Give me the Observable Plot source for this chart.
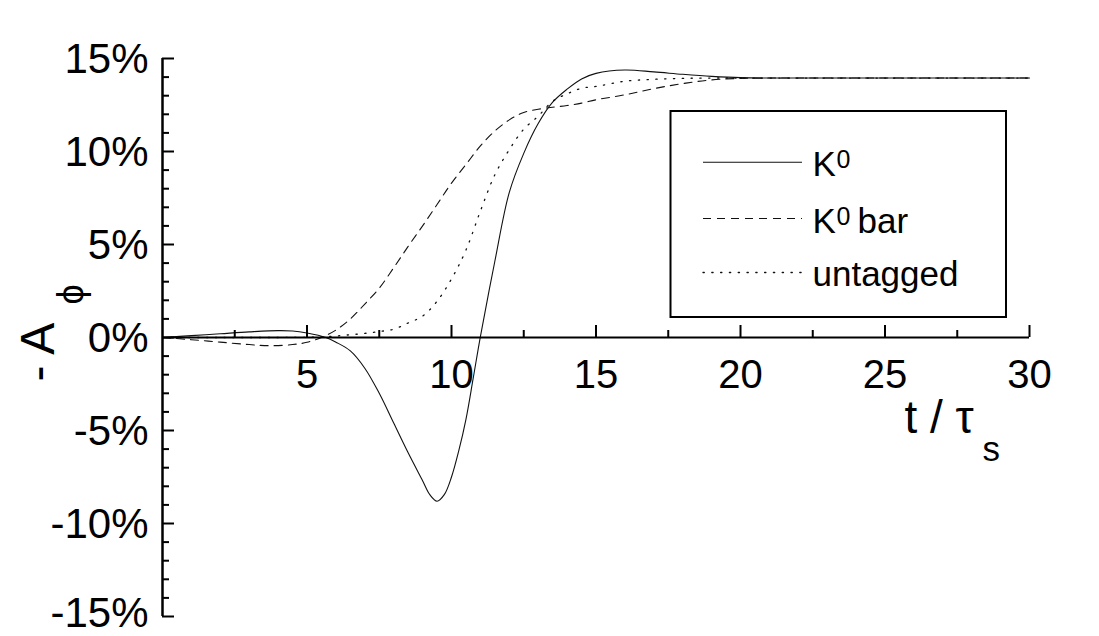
<!DOCTYPE html>
<html>
<head>
<meta charset="utf-8">
<script src="https://cdn.jsdelivr.net/npm/d3@7"></script>
<script src="https://cdn.jsdelivr.net/npm/@observablehq/plot@0.6"></script>
<style>
  html, body { margin: 0; padding: 0; background: #fff; }
  #chart { width: 1099px; height: 636px; }
</style>
</head>
<body>
<div id="chart"></div>
<script>
// ---- data ----
const k0T = [0,1,2,3,4,4.5,5,5.65,6,6.5,7,7.5,8,8.5,9,9.25,9.5,9.75,10,10.25,10.5,10.75,11,11.5,12,12.5,13,13.5,14,14.5,15,16,17,18,19,20,22,25,30];
const k0V = [0,0.1,0.2,0.3,0.37,0.35,0.24,0,-0.25,-0.72,-1.65,-3.0,-4.6,-6.2,-7.7,-8.45,-8.8,-8.45,-7.5,-6.1,-4.4,-2.2,0.05,4.1,7.8,9.9,11.5,12.65,13.35,13.9,14.2,14.38,14.28,14.15,14.04,13.97,13.95,13.95,13.95];

const k0barT = [0,1,2,3,3.7,4.5,5,5.5,6,6.5,7,7.5,8,8.5,9,9.5,10,10.5,11,11.5,12,12.5,13,13.5,14,14.5,15,16,17,18,19,20,22,25,30];
const k0barV = [0,-0.12,-0.25,-0.38,-0.44,-0.38,-0.26,0,0.4,1.0,1.8,2.65,3.75,4.9,6.0,7.15,8.3,9.3,10.3,11.1,11.7,12.1,12.27,12.38,12.47,12.6,12.78,13.05,13.38,13.65,13.85,13.93,13.95,13.95,13.95];

const untaggedT = [0,2,4,5,5.5,6,6.5,7,7.5,8,8.5,9,9.5,10,10.5,11,11.5,12,12.5,13,13.5,14,14.5,15,16,17,18,19,20,25,30];
const untaggedV = [0,0,0,0.01,0.03,0.08,0.15,0.22,0.32,0.45,0.78,1.15,1.95,3.15,4.7,6.8,8.75,10.1,11.2,11.9,12.7,13.1,13.4,13.5,13.78,13.88,13.93,13.95,13.95,13.95,13.95];

const yMajor = [-15,-10,-5,0,5,10,15];
const yMinor = d3.range(-15, 16).filter(d => d % 5 !== 0);
const xMajor = [5,10,15,20,25,30];
const xMinor = [2.5,7.5,12.5,17.5,22.5,27.5];
const xLabels = [5,10,15,20,25,30];

// ---- layout ----
const W = 1099, H = 636, ML = 162, MR = 70, MT = 58, MB = 20;
const PW = W - ML - MR, PH = H - MT - MB;
const FONT = "Liberation Sans, Arial, Helvetica, sans-serif";
const X = px => (px - ML) / PW * 30;          // pixel -> data (x)
const Y = py => 15 - (py - MT) / PH * 30;     // pixel -> data (y)

const rows = (T, V) => T.map((t, i) => ({t, v: V[i]}));
const INK = "#111";
const styles = {
  solid: {stroke: INK, strokeWidth: 1.1},
  dashed: {stroke: INK, strokeWidth: 1.1, strokeDasharray: "8,6"},
  dotted: {stroke: INK, strokeWidth: 1.3, strokeDasharray: "1.3,7.5", strokeLinecap: "round"}
};

const txt = (s, dx, dy, size, extra = {}) =>
  Plot.text([s], {frameAnchor: "top-left", text: d => d, dx: dx - ML, dy: dy - MT,
    fontSize: size, fontFamily: FONT, textAnchor: "start", lineAnchor: "bottom", fill: "black", ...extra});

const legendRows = [
  {label: "K", sup: "0", rest: "", style: "solid", ly: 161.7, base: 175},
  {label: "K", sup: "0", rest: "bar", style: "dashed", ly: 218, base: 232.7},
  {label: "untagged", sup: "", rest: "", style: "dotted", ly: 272, base: 285}
];

const marks = [
  // curves
  Plot.line(rows(k0T, k0V), {x: "t", y: "v", curve: "catmull-rom", ...styles.solid}),
  Plot.line(rows(k0barT, k0barV), {x: "t", y: "v", curve: "catmull-rom", ...styles.dashed}),
  Plot.line(rows(untaggedT, untaggedV), {x: "t", y: "v", curve: "catmull-rom", ...styles.dotted}),
  // axes
  Plot.ruleY([0], {x1: 0, x2: 30, stroke: "black", strokeWidth: 2}),
  Plot.ruleX([0], {y1: -15, y2: 15, stroke: "black", strokeWidth: 2.5}),
  Plot.tickY(yMajor, {y: d => d, insetRight: PW - 12, stroke: "black", strokeWidth: 2}),
  Plot.tickY(yMinor, {y: d => d, insetRight: PW - 7, stroke: "black", strokeWidth: 2}),
  Plot.tickX(xMajor, {x: d => d, insetTop: PH / 2 - 12, insetBottom: PH / 2, stroke: "black", strokeWidth: 2}),
  Plot.tickX(xMinor, {x: d => d, insetTop: PH / 2 - 7, insetBottom: PH / 2, stroke: "black", strokeWidth: 2}),
  Plot.text(yMajor.filter(d => d > -15), {y: d => d, text: d => `${d}%`, frameAnchor: "left", textAnchor: "end", dx: -14, dy: 1,
    fontSize: 42, fontFamily: FONT, fill: "black"}),
  Plot.text(yMajor.filter(d => d === -15), {y: d => d, text: d => `${d}%`, frameAnchor: "left", textAnchor: "end", dx: -14, dy: -3,
    fontSize: 42, fontFamily: FONT, fill: "black"}),
  Plot.text(xLabels, {x: d => d, y: () => 0, text: d => `${d}`, textAnchor: "middle", lineAnchor: "bottom", dy: 50,
    fontSize: 40, fontFamily: FONT, fill: "black"}),
  // axis titles
  txt("- A", 53, 381, 48, {rotate: -90}),
  txt("\u03D5", 82, 304, 36, {rotate: -90}),
  txt("t / τ", 904, 432, 46),
  txt("s", 982, 460, 35),
  // legend box
  Plot.rect([0], {x1: () => X(670.5), x2: () => X(1006), y1: () => Y(111), y2: () => Y(317),
    fill: "white", stroke: "black", strokeWidth: 2})
];

for (const r of legendRows) {
  marks.push(Plot.ruleY([0], {y: () => Y(r.ly), x1: () => X(703), x2: () => X(802), ...styles[r.style]}));
  marks.push(txt(r.label, 812, r.base, 35));
  if (r.sup) marks.push(txt(r.sup, 836, r.base - 8, 25));
  if (r.rest) marks.push(txt(r.rest, 857, r.base, 35));
}

const chart = Plot.plot({
  width: W, height: H,
  marginLeft: ML, marginRight: MR, marginTop: MT, marginBottom: MB,
  x: {domain: [0, 30], axis: null},
  y: {domain: [-15, 15], axis: null},
  style: {fontFamily: FONT, background: "white", color: "black", overflow: "visible"},
  marks
});
document.getElementById("chart").appendChild(chart);
</script>
</body>
</html>
